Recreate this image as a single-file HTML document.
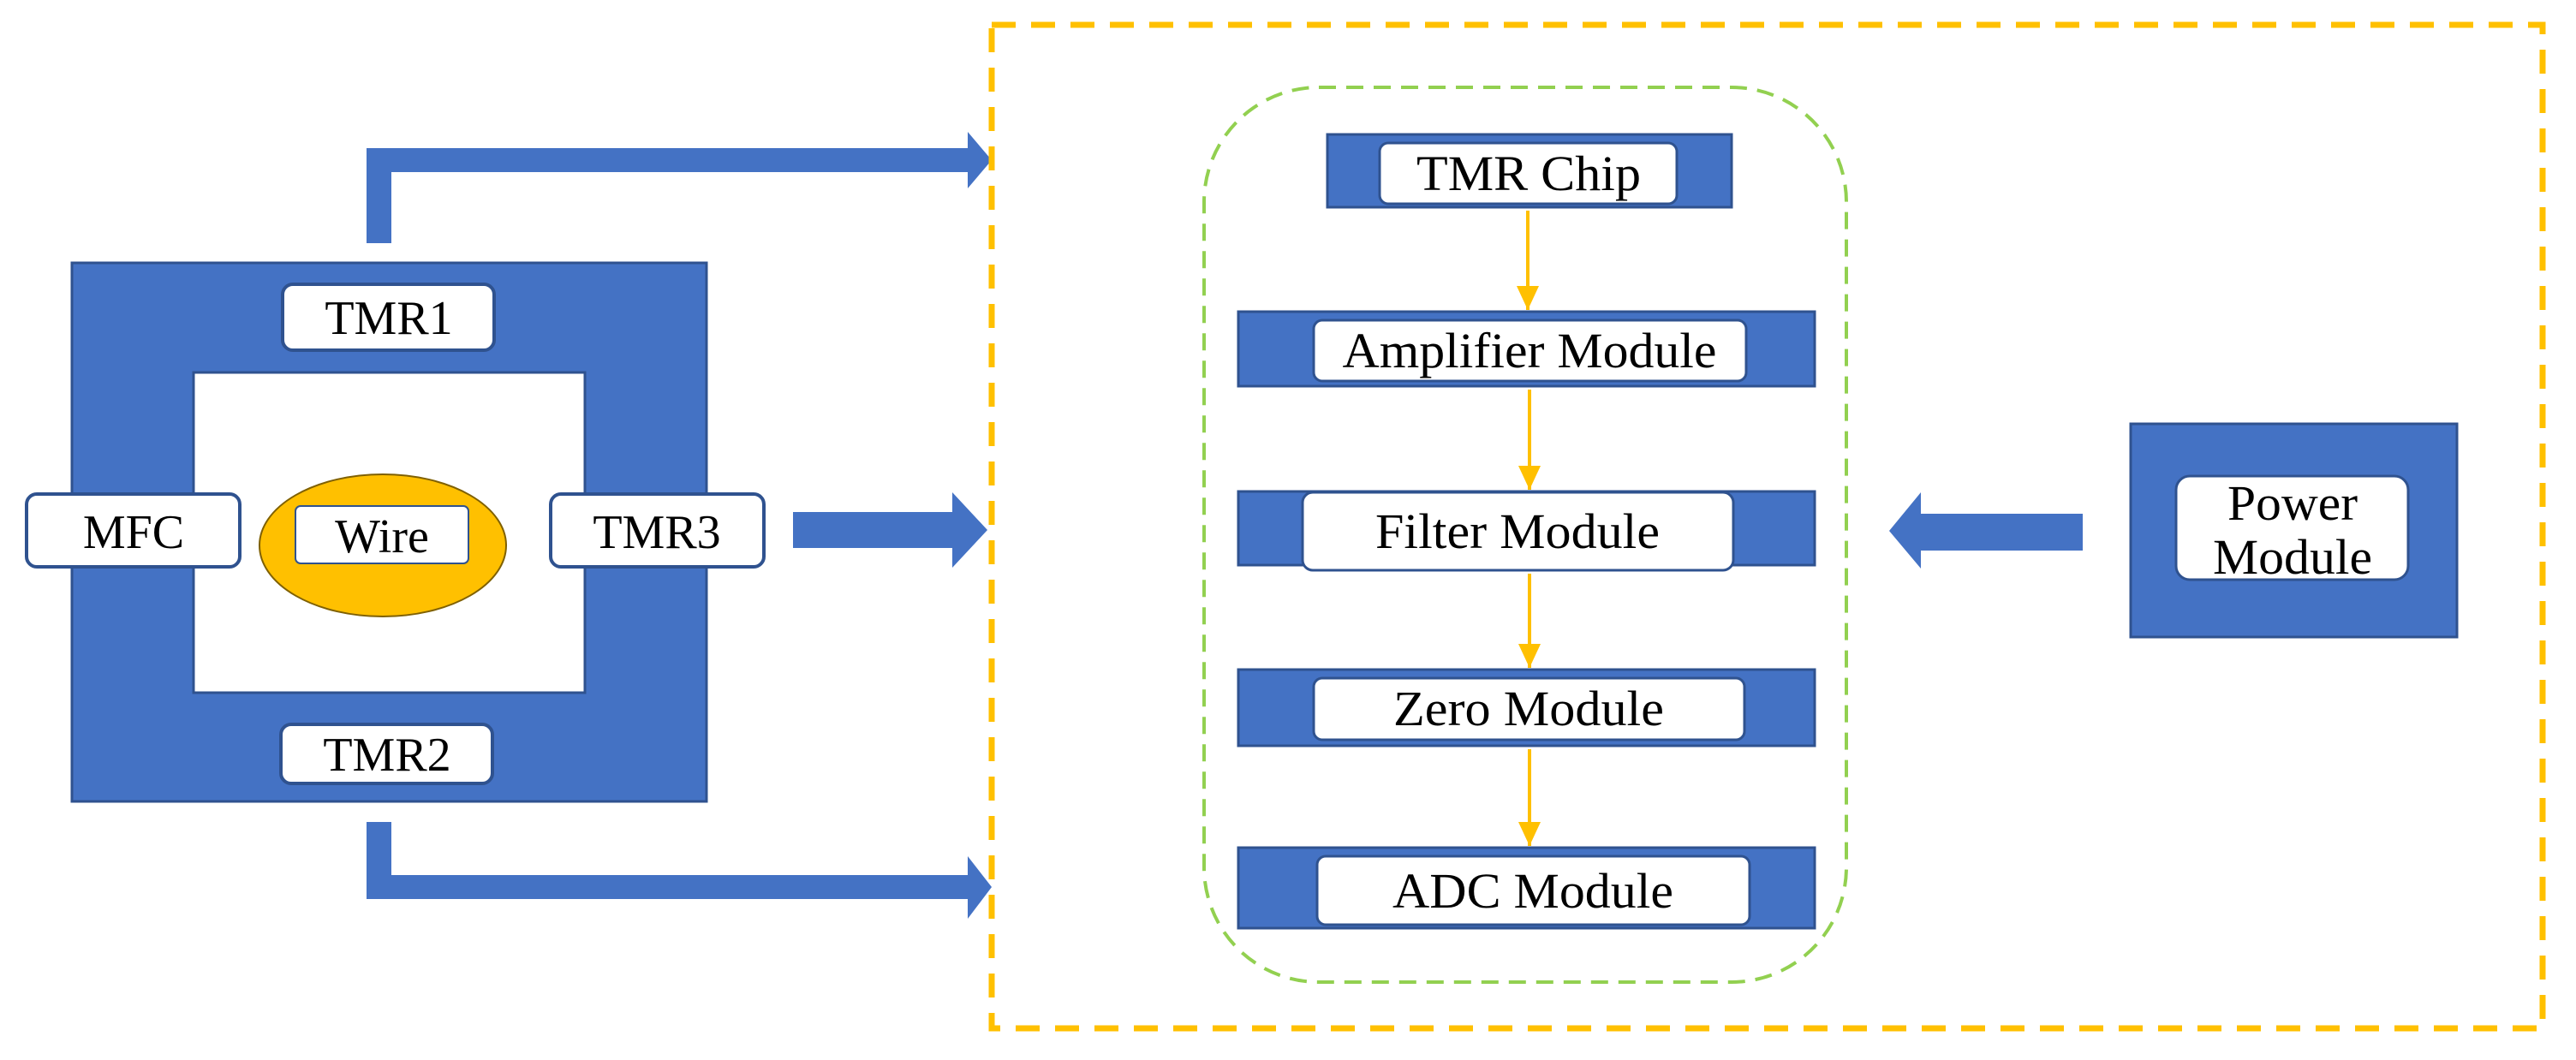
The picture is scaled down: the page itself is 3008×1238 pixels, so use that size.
<!DOCTYPE html>
<html><head><meta charset="utf-8"><style>html,body{margin:0;padding:0;background:#fff}svg{display:block}</style></head>
<body>
<svg width="3008" height="1238" viewBox="0 0 3008 1238" xmlns="http://www.w3.org/2000/svg" font-family="Liberation Serif, serif">
<defs>
<marker id="ya" markerWidth="30" markerHeight="28" refX="28" refY="13" orient="auto" markerUnits="userSpaceOnUse"><path d="M0,0 L28,13 L0,26 Z" fill="#FFC000"/></marker>
</defs>
<!-- left sensor -->
<rect x="84" y="307" width="741" height="629" fill="#4472C4" stroke="#2F528F" stroke-width="3"/>
<rect x="226" y="435" width="457" height="374" fill="#fff" stroke="#2F528F" stroke-width="3"/>
<g stroke="#2F528F" stroke-width="4" fill="#fff">
<rect x="330" y="332" width="247" height="77" rx="12"/>
<rect x="328" y="846" width="247" height="69" rx="12"/>
<rect x="31" y="577" width="249" height="85" rx="12"/>
<rect x="643" y="577" width="249" height="85" rx="12"/>
</g>
<ellipse cx="447" cy="637" rx="144" ry="83" fill="#FFC000" stroke="#7f6000" stroke-width="2"/>
<rect x="345" y="591" width="202" height="67" rx="6" fill="#fff" stroke="#2F528F" stroke-width="2"/>
<g font-size="56" text-anchor="middle" fill="#000">
<text x="454" y="390">TMR1</text>
<text x="452" y="900">TMR2</text>
<text x="156" y="640">MFC</text>
<text x="767" y="640">TMR3</text>
<text x="446" y="645">Wire</text>
</g>
<!-- blue arrows -->
<g fill="#4472C4">
<polygon points="428,284 428,173 1130,173 1130,154 1158,187 1130,220 1130,201 457,201 457,284"/>
<polygon points="926,598 1112,598 1112,575 1153,619 1112,663 1112,640 926,640"/>
<polygon points="428,960 457,960 457,1022 1130,1022 1130,1000 1158,1036 1130,1073 1130,1050 428,1050"/>
<polygon points="2432,600 2243,600 2243,575 2206,620 2243,664 2243,643 2432,643"/>
</g>
<!-- yellow dashed frame -->
<rect x="1158" y="29" width="1811" height="1172" fill="none" stroke="#FFC000" stroke-width="7" stroke-dasharray="28,18"/>
<!-- green dashed -->
<rect x="1406" y="102" width="750" height="1045" rx="134" fill="none" stroke="#92D050" stroke-width="4" stroke-dasharray="20,12"/>
<!-- bars -->
<g fill="#4472C4" stroke="#2F528F" stroke-width="3">
<rect x="1550" y="157" width="472" height="85"/>
<rect x="1446" y="364" width="673" height="87"/>
<rect x="1446" y="574" width="673" height="86"/>
<rect x="1446" y="782" width="673" height="89"/>
<rect x="1446" y="990" width="673" height="94"/>
<rect x="2488" y="495" width="381" height="249"/>
</g>
<g fill="#fff" stroke="#2F528F" stroke-width="3">
<rect x="1611" y="167" width="347" height="71" rx="10"/>
<rect x="1534" y="374" width="505" height="71" rx="10"/>
<rect x="1521" y="575" width="503" height="91" rx="12"/>
<rect x="1534" y="792" width="503" height="72" rx="10"/>
<rect x="1538" y="1000" width="505" height="80" rx="10"/>
<rect x="2541" y="556" width="271" height="121" rx="16"/>
</g>
<g font-size="58" text-anchor="middle" fill="#000">
<text x="1785" y="222" textLength="262" lengthAdjust="spacingAndGlyphs">TMR Chip</text>
<text x="1786" y="429" textLength="437" lengthAdjust="spacingAndGlyphs">Amplifier Module</text>
<text x="1772" y="640" textLength="332" lengthAdjust="spacingAndGlyphs">Filter Module</text>
<text x="1785" y="847" textLength="316" lengthAdjust="spacingAndGlyphs">Zero Module</text>
<text x="1790" y="1060" textLength="328" lengthAdjust="spacingAndGlyphs">ADC Module</text>
<text x="2677" y="607" textLength="152" lengthAdjust="spacingAndGlyphs">Power</text>
<text x="2677" y="670" textLength="186" lengthAdjust="spacingAndGlyphs">Module</text>
</g>
<!-- yellow flow arrows -->
<g stroke="#FFC000" stroke-width="4" marker-end="url(#ya)">
<line x1="1784" y1="246" x2="1784" y2="362"/>
<line x1="1786" y1="455" x2="1786" y2="572"/>
<line x1="1786" y1="670" x2="1786" y2="780"/>
<line x1="1786" y1="875" x2="1786" y2="988"/>
</g>
</svg>
</body></html>
